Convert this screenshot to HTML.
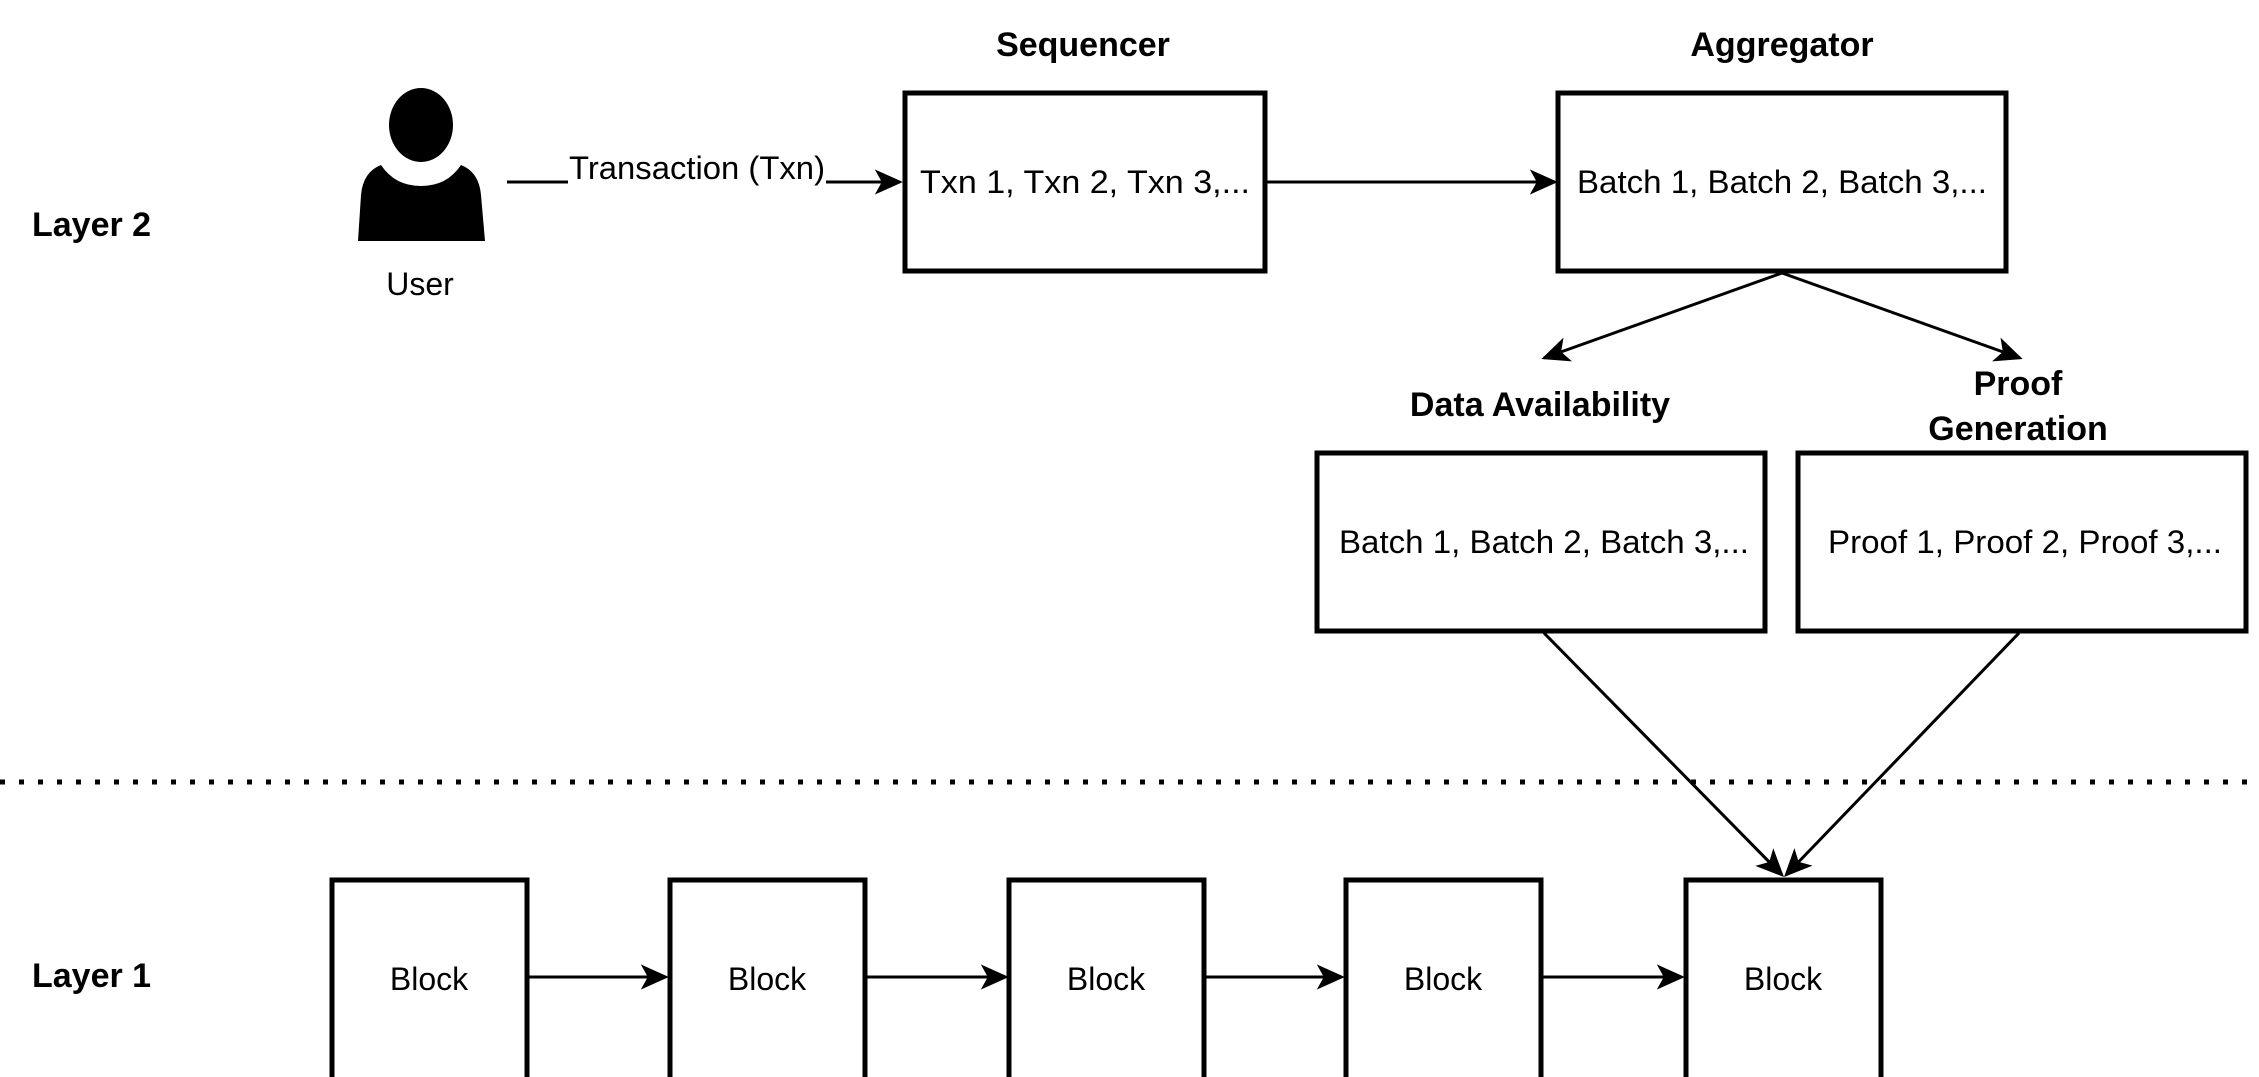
<!DOCTYPE html>
<html><head><meta charset="utf-8"><style>
html,body{margin:0;padding:0;background:#fff;}
svg{display:block;}
text{font-family:"Liberation Sans",sans-serif;fill:#000;}
.t{font-size:32px;}
.b{font-size:34px;font-weight:bold;}
</style></head><body>
<svg width="2259" height="1077" viewBox="0 0 2259 1077" xmlns="http://www.w3.org/2000/svg">
<defs>
<marker id="a" viewBox="0 0 20 20" refX="18" refY="10" markerWidth="28" markerHeight="28" markerUnits="userSpaceOnUse" orient="auto">
<path d="M0,1 L20,10 L0,19 L5,10 Z" fill="#000"/>
</marker>
</defs>
<rect width="2259" height="1077" fill="#fff"/>
<text class="b" x="32" y="236">Layer 2</text>
<text class="b" x="32" y="987">Layer 1</text>
<!-- user -->
<ellipse cx="421" cy="125" rx="32" ry="37" fill="#000"/>
<path d="M358,241 L361,195 Q363,172 381,165 Q395,186 421,186 Q447,186 461,165 Q479,172 481,195 L485,241 Z" fill="#000"/>
<text class="t" x="420" y="295" text-anchor="middle" font-size="31">User</text>
<!-- txn arrow -->
<line x1="507" y1="182" x2="568" y2="182" stroke="#000" stroke-width="3"/>
<line x1="826" y1="182" x2="900" y2="182" stroke="#000" stroke-width="3" marker-end="url(#a)"/>
<text class="t" x="697" y="179" text-anchor="middle" textLength="256" lengthAdjust="spacingAndGlyphs">Transaction (Txn)</text>
<!-- titles -->
<text class="b" x="1083" y="56" text-anchor="middle">Sequencer</text>
<text class="b" x="1782" y="56" text-anchor="middle">Aggregator</text>
<text class="b" x="1540" y="416" text-anchor="middle">Data Availability</text>
<text class="b" x="2018" y="395" text-anchor="middle">Proof</text>
<text class="b" x="2018" y="440" text-anchor="middle">Generation</text>
<!-- boxes -->
<g fill="none" stroke="#000" stroke-width="5">
<rect x="905" y="93" width="360" height="178"/>
<rect x="1558" y="93" width="448" height="178"/>
<rect x="1317" y="453" width="448" height="178"/>
<rect x="1798" y="453" width="448" height="178"/>
</g>
<text class="t" x="1085" y="193" text-anchor="middle" textLength="330" lengthAdjust="spacingAndGlyphs">Txn 1, Txn 2, Txn 3,...</text>
<text class="t" x="1782" y="193" text-anchor="middle" textLength="410" lengthAdjust="spacingAndGlyphs">Batch 1, Batch 2, Batch 3,...</text>
<text class="t" x="1544" y="553" text-anchor="middle" textLength="410" lengthAdjust="spacingAndGlyphs">Batch 1, Batch 2, Batch 3,...</text>
<text class="t" x="2025" y="553" text-anchor="middle" textLength="394" lengthAdjust="spacingAndGlyphs">Proof 1, Proof 2, Proof 3,...</text>
<!-- arrows -->
<g stroke="#000" stroke-width="3" fill="none">
<line x1="1267" y1="182" x2="1555" y2="182" marker-end="url(#a)"/>
<line x1="1782" y1="273" x2="1544" y2="358" marker-end="url(#a)"/>
<line x1="1782" y1="273" x2="2020" y2="358" marker-end="url(#a)"/>
<line x1="1544" y1="633" x2="1782" y2="875" marker-end="url(#a)"/>
<line x1="2019" y1="633" x2="1786" y2="875" marker-end="url(#a)"/>
<line x1="0" y1="782" x2="2259" y2="782" stroke-width="5" stroke-dasharray="5,14"/>
<line x1="528" y1="977" x2="666" y2="977" marker-end="url(#a)"/>
<line x1="866" y1="977" x2="1006" y2="977" marker-end="url(#a)"/>
<line x1="1205" y1="977" x2="1342" y2="977" marker-end="url(#a)"/>
<line x1="1543" y1="977" x2="1682" y2="977" marker-end="url(#a)"/>
</g>
<!-- blocks -->
<g fill="none" stroke="#000" stroke-width="5">
<rect x="332" y="880" width="195" height="200"/>
<rect x="670" y="880" width="195" height="200"/>
<rect x="1009" y="880" width="195" height="200"/>
<rect x="1346" y="880" width="195" height="200"/>
<rect x="1686" y="880" width="195" height="200"/>
</g>
<text class="t" x="429" y="990" text-anchor="middle">Block</text>
<text class="t" x="767" y="990" text-anchor="middle">Block</text>
<text class="t" x="1106" y="990" text-anchor="middle">Block</text>
<text class="t" x="1443" y="990" text-anchor="middle">Block</text>
<text class="t" x="1783" y="990" text-anchor="middle">Block</text>
</svg>
</body></html>
